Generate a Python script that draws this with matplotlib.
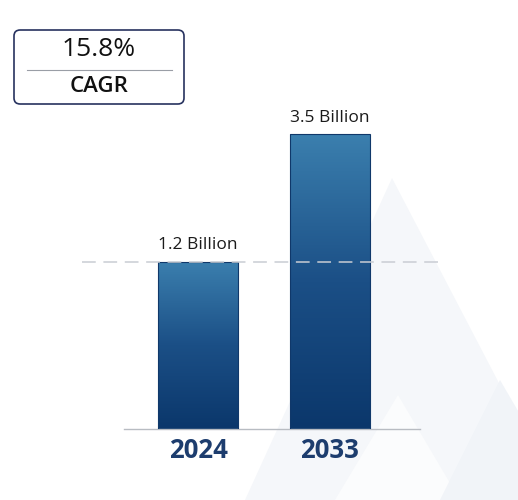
import numpy as np
import matplotlib.pyplot as plt
from matplotlib.patches import FancyBboxPatch, Polygon
from matplotlib.colors import LinearSegmentedColormap
import matplotlib.transforms as mtransforms

years = ['2024', '2033']
values = [1.2, 3.5]
labels = ['1.2 Billion', '3.5 Billion']
cagr = '15.8%'

plt.rcParams['font.family'] = ['Open Sans', 'DejaVu Sans']

fig = plt.figure(figsize=(5.18, 5.00), dpi=100)
fig.patch.set_facecolor('white')

# faint logo watermark in the background
bg = fig.add_axes([0, 0, 1, 1], zorder=0)
bg.set_xlim(0, 518)
bg.set_ylim(500, 0)
bg.axis('off')
bg.add_patch(Polygon([(392, 178), (245, 500), (560, 500)], closed=True,
                     facecolor='#f5f7fa', edgecolor='none'))
bg.add_patch(Polygon([(398, 395), (335, 500), (460, 500)], closed=True,
                     facecolor='#fbfcfd', edgecolor='none'))
bg.add_patch(Polygon([(500, 380), (440, 500), (570, 500)], closed=True,
                     facecolor='#f1f4f8', edgecolor='none'))

ax = fig.add_axes([124 / 518, 71 / 500, 296 / 518, 329 / 500], zorder=1)
ax.patch.set_alpha(0)
p = 0.53
ax.set_yscale('function', functions=(lambda v: np.power(np.clip(v, 0, None), p),
                                     lambda v: np.power(np.clip(v, 0, None), 1 / p)))
ax.set_xlim(-0.563, 1.687)
ax.set_ylim(0, 4.3)

x = np.arange(len(years))
bars = ax.bar(x, values, width=0.608, color='none', edgecolor='#10386a', linewidth=0.8, zorder=3)

cmap = LinearSegmentedColormap.from_list('blu', ['#0b376b', '#1b4f86', '#3b7fae'])
grad = np.linspace(0, 1, 256).reshape(-1, 1)
to_axes = ax.transData + ax.transAxes.inverted()
for b in bars:
    x0, y0 = to_axes.transform((b.get_x(), 0))
    x1, y1 = to_axes.transform((b.get_x() + b.get_width(), b.get_height()))
    im = ax.imshow(grad, cmap=cmap, aspect='auto', origin='lower',
                   extent=[x0, x1, y0, y1], transform=ax.transAxes, zorder=2)
    im.set_clip_path(b)

ax.set_xlim(-0.563, 1.687)
ax.set_ylim(0, 4.3)

for xi, v, lab in zip(x, values, labels):
    ax.annotate(lab, (xi, v), xytext=(0, 6), textcoords='offset points',
                ha='center', va='bottom', fontsize=12.5, color='#1a1a1a')

# dashed reference line at the first value
trans = mtransforms.blended_transform_factory(ax.transAxes, ax.transData)
ax.plot([-0.142, 1.068], [values[0], values[0]], transform=trans, clip_on=False,
        color='#c9cdd3', linewidth=1.1, dashes=(9, 5), zorder=4)

for s in ['top', 'right', 'left']:
    ax.spines[s].set_visible(False)
ax.spines['bottom'].set_color('#b8bcc2')
ax.spines['bottom'].set_linewidth(1.0)
ax.set_yticks([])
ax.set_xticks(x)
ax.set_xticklabels(years, fontsize=18.5, fontweight='bold', color='#1d3d6e')
ax.tick_params(axis='x', length=0, pad=6)
ax.minorticks_off()

# CAGR box
box = FancyBboxPatch((14 / 518, 0.792), 170 / 518, 0.148,
                     boxstyle='round,pad=0,rounding_size=0.012',
                     transform=fig.transFigure, facecolor='white',
                     edgecolor='#27325f', linewidth=1.2, zorder=5)
fig.patches.append(box)
fig.add_artist(plt.Line2D([27 / 518, 172 / 518], [0.860, 0.860], color='#9a9ea6',
                          linewidth=0.8, transform=fig.transFigure, zorder=6))
fig.text(99 / 518, 0.900, cagr, ha='center', va='center', fontsize=19,
         color='#111111', zorder=6)
fig.text(99 / 518, 0.826, 'CAGR', ha='center', va='center', fontsize=16,
         fontweight='semibold', color='#111111', zorder=6)

fig.savefig('out.png', dpi=100, facecolor='white')
